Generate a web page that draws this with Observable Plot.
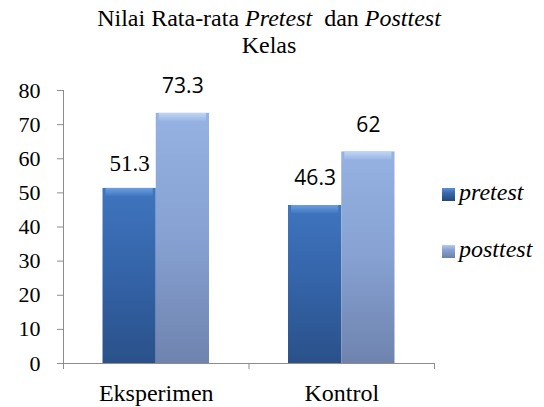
<!DOCTYPE html>
<html>
<head>
<meta charset="utf-8">
<script src="https://cdn.jsdelivr.net/npm/d3@7"></script>
<script src="https://cdn.jsdelivr.net/npm/@observablehq/plot@0.6"></script>
<style>
  body { margin: 0; background: #fff; }
  #wrap { position: relative; width: 544px; height: 407px; overflow: hidden; background: #fff; }
  #title { position: absolute; left: 0; top: 0; width: 538px; padding-top: 5px; text-align: center;
           font-family: "Liberation Serif", "Times New Roman", serif; font-size: 24px; line-height: 27px;
           color: #000; white-space: pre; }
  #chart { position: absolute; left: 0; top: 62px; }
  .sw { position: absolute; left: 442px; width: 13px; height: 13px; }
  .lt { position: absolute; left: 459px; font-family: "Liberation Serif", "Times New Roman", serif;
        font-style: italic; font-size: 24px; line-height: 24px; color: #000; white-space: nowrap; }
</style>
</head>
<body>
<div id="wrap">
  <div id="title">Nilai Rata-rata <i>Pretest</i>  dan <i>Posttest</i>
Kelas</div>
  <div id="chart"></div>
  <div id="legend"></div>
</div>
<script>
// ---- data ----
const categories = ["Eksperimen", "Kontrol"];
const seriesNames = ["pretest", "posttest"];
const pretest = [51.3, 46.3];
const posttest = [73.3, 62];
const pretestLabelFont = ["serif", "sans"];
const posttestLabelFont = ["sans", "sans"];
const yTicks = [0, 10, 20, 30, 40, 50, 60, 70, 80];

// ---- layout of bars inside each category slot (fractions of a slot) ----
const groupPad = 0.213;
const barW = (1 - 2 * groupPad) / seriesNames.length;

const values = { pretest, posttest };
const fonts = { pretest: pretestLabelFont, posttest: posttestLabelFont };
const rows = categories.flatMap((c, i) => seriesNames.map((s, k) => ({
  category: c, series: s, value: values[s][i], font: fonts[s][i],
  x1: i + groupPad + k * barW, x2: i + groupPad + (k + 1) * barW
})));
const pre = rows.filter(d => d.series === "pretest");
const post = rows.filter(d => d.series === "posttest");

const grey = "#8c8c8c";
const serif = '"Liberation Serif", "Times New Roman", serif';
const sans = '"Open Sans", "Liberation Sans", sans-serif';

const plot = Plot.plot({
  width: 544, height: 345,
  marginTop: 28, marginBottom: 44, marginLeft: 63, marginRight: 110,
  style: { background: "transparent" },
  x: { domain: [0, categories.length] },
  y: { domain: [0, 80] },
  marks: [
    Plot.rectY(pre, { x1: "x1", x2: "x2", y1: () => 0, y2: "value", fill: "url(#gPre)" }),
    Plot.rectY(post, { x1: "x1", x2: "x2", y1: () => 0, y2: "value", fill: "url(#gPost)" }),
    // bevel highlight at bar tops
    Plot.rectY(pre, { x1: "x1", x2: "x2", y1: "value", y2: "value", insetBottom: -8, insetLeft: 3, insetRight: 3, fill: "url(#hPre)" }),
    Plot.rectY(post, { x1: "x1", x2: "x2", y1: "value", y2: "value", insetBottom: -8, insetLeft: 3, insetRight: 3, fill: "url(#hPost)" }),
    // axis lines
    Plot.ruleX([0], { stroke: grey }),
    Plot.ruleY([0], { stroke: grey }),
    Plot.axisY({ ticks: yTicks, tickSize: 6, tickPadding: 17, stroke: grey, fill: "#000", fontSize: 22, fontFamily: serif, label: null }),
    Plot.axisX({ ticks: d3.range(0, categories.length + 1), tickSize: 6, tickFormat: () => "", stroke: grey, label: null }),
    Plot.axisX({ ticks: categories.map((c, i) => i + 0.5), tickSize: 0, tickPadding: 20, fontFamily: serif,
                 tickFormat: v => categories[Math.floor(v)], fill: "#000", fontSize: 24, label: null }),
    // value labels
    Plot.text(rows.filter(d => d.font === "serif"), { x: d => (d.x1 + d.x2) / 2, y: "value", text: d => String(d.value),
      dy: -25, fontFamily: serif, fontSize: 23, fill: "#000" }),
    Plot.text(rows.filter(d => d.font === "sans"), { x: d => (d.x1 + d.x2) / 2, y: "value", text: d => String(d.value),
      dy: -27, fontFamily: sans, fontSize: 21, fill: "#000" })
  ]
});

// gradients
const svg = d3.select(plot);
const defs = svg.insert("defs", ":first-child");
function grad(id, stops) {
  const g = defs.append("linearGradient").attr("id", id).attr("x1", 0).attr("y1", 0).attr("x2", 0).attr("y2", 1);
  stops.forEach(([o, c]) => g.append("stop").attr("offset", o).attr("stop-color", c));
}
grad("gPre", [[0, "#3f75bf"], [0.5, "#3463a8"], [1, "#2a5189"]]);
grad("gPost", [[0, "#95b2e2"], [0.5, "#86a1d2"], [1, "#6f83ae"]]);
grad("hPre", [[0, "#6c9de0"], [1, "#4379c2"]]);
grad("hPost", [[0, "#c2d6f5"], [1, "#9ab6e4"]]);

// make sure each text gets its family inline
svg.selectAll("g[font-family]").each(function () {
  const ff = this.getAttribute("font-family");
  d3.select(this).selectAll("text").style("font-family", ff);
});

document.getElementById("chart").appendChild(plot);

// legend
const legendItems = [
  { name: seriesNames[0], top: 188, bg: "linear-gradient(#5b8fd6 0%, #3a6cb0 35%, #24487e 100%)", textTop: 180 },
  { name: seriesNames[1], top: 245, bg: "linear-gradient(#b7cbee 0%, #8aa3d2 35%, #6d7fa8 100%)", textTop: 237 }
];
const leg = document.getElementById("legend");
legendItems.forEach(it => {
  const sw = document.createElement("div");
  sw.className = "sw"; sw.style.top = it.top + "px"; sw.style.background = it.bg;
  leg.appendChild(sw);
  const t = document.createElement("div");
  t.className = "lt"; t.style.top = it.textTop + "px"; t.textContent = it.name;
  leg.appendChild(t);
});
</script>
</body>
</html>
